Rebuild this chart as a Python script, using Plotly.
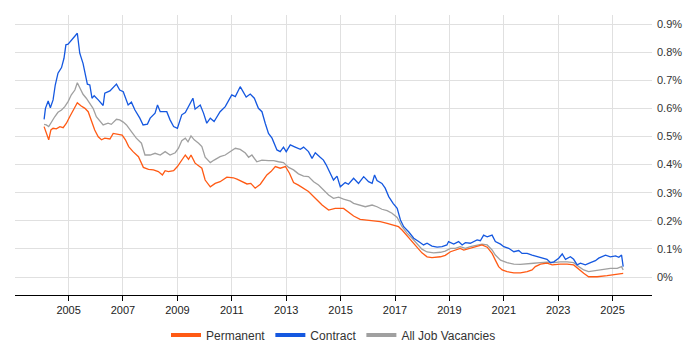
import plotly.graph_objects as go
from datetime import datetime, timedelta

# ---- data (decimal years, percent of vacancies) ----
contract_t = [2004.10, 2004.15, 2004.25, 2004.33, 2004.43, 2004.51, 2004.61, 2004.74, 2004.83, 2004.90,
              2004.98, 2005.10, 2005.23, 2005.32, 2005.41, 2005.53, 2005.69, 2005.78, 2005.86, 2005.94,
              2006.09, 2006.27, 2006.33, 2006.52, 2006.76, 2006.88, 2007.01, 2007.19, 2007.31, 2007.44,
              2007.62, 2007.74, 2007.90, 2008.00, 2008.18, 2008.27, 2008.37, 2008.61, 2008.73, 2008.86,
              2009.00, 2009.16, 2009.29, 2009.47, 2009.57, 2009.65, 2009.84, 2009.96, 2010.08, 2010.21,
              2010.35, 2010.57, 2010.76, 2011.00, 2011.13, 2011.31, 2011.43, 2011.53, 2011.68, 2011.83,
              2011.98, 2012.11, 2012.23, 2012.35, 2012.48, 2012.66, 2012.78, 2012.90, 2013.00, 2013.15,
              2013.33, 2013.52, 2013.64, 2013.82, 2013.95, 2014.07, 2014.25, 2014.37, 2014.47, 2014.62,
              2014.74, 2014.87, 2014.99, 2015.17, 2015.29, 2015.48, 2015.66, 2015.85, 2016.03, 2016.16,
              2016.25, 2016.34, 2016.52, 2016.64, 2016.77, 2016.93, 2017.08, 2017.20, 2017.32, 2017.50,
              2017.69, 2017.87, 2018.05, 2018.18, 2018.36, 2018.55, 2018.73, 2018.91, 2018.97, 2019.16,
              2019.34, 2019.47, 2019.59, 2019.77, 2019.89, 2020.02, 2020.14, 2020.26, 2020.39, 2020.57,
              2020.69, 2020.88, 2021.00, 2021.18, 2021.37, 2021.55, 2021.67, 2021.86, 2022.04, 2022.23,
              2022.41, 2022.59, 2022.72, 2022.84, 2023.02, 2023.15, 2023.27, 2023.45, 2023.57, 2023.70,
              2023.82, 2024.00, 2024.19, 2024.37, 2024.49, 2024.62, 2024.74, 2024.92, 2025.11, 2025.23,
              2025.33, 2025.39]
contract_v = [0.561, 0.600, 0.626, 0.602, 0.630, 0.683, 0.725, 0.745, 0.778, 0.826,
              0.828, 0.843, 0.855, 0.867, 0.796, 0.760, 0.686, 0.683, 0.636, 0.645,
              0.630, 0.610, 0.654, 0.662, 0.686, 0.665, 0.659, 0.612, 0.622, 0.594,
              0.565, 0.541, 0.544, 0.565, 0.583, 0.612, 0.588, 0.588, 0.559, 0.535,
              0.529, 0.577, 0.585, 0.618, 0.636, 0.597, 0.612, 0.583, 0.547, 0.565,
              0.553, 0.588, 0.606, 0.648, 0.642, 0.677, 0.658, 0.640, 0.651, 0.636,
              0.600, 0.588, 0.547, 0.511, 0.494, 0.452, 0.446, 0.462, 0.446, 0.470,
              0.462, 0.454, 0.462, 0.446, 0.422, 0.442, 0.426, 0.416, 0.399, 0.369,
              0.345, 0.359, 0.321, 0.336, 0.330, 0.351, 0.333, 0.357, 0.339, 0.333,
              0.363, 0.343, 0.333, 0.316, 0.286, 0.262, 0.244, 0.203, 0.179, 0.161,
              0.138, 0.126, 0.114, 0.120, 0.110, 0.106, 0.108, 0.114, 0.126, 0.117,
              0.126, 0.114, 0.122, 0.120, 0.126, 0.132, 0.129, 0.149, 0.143, 0.149,
              0.126, 0.117, 0.108, 0.102, 0.090, 0.094, 0.084, 0.084, 0.078, 0.072,
              0.067, 0.063, 0.051, 0.054, 0.067, 0.082, 0.063, 0.072, 0.063, 0.043,
              0.049, 0.043, 0.051, 0.058, 0.067, 0.072, 0.078, 0.072, 0.075, 0.070,
              0.078, 0.037]

permanent_t = [2004.10, 2004.18, 2004.27, 2004.35, 2004.43, 2004.55, 2004.68, 2004.80, 2004.92, 2005.04,
               2005.17, 2005.25, 2005.32, 2005.45, 2005.60, 2005.72, 2005.84, 2005.96, 2006.09, 2006.21,
               2006.33, 2006.52, 2006.64, 2006.82, 2006.97, 2007.09, 2007.21, 2007.37, 2007.57, 2007.75,
               2007.94, 2008.12, 2008.30, 2008.45, 2008.55, 2008.67, 2008.86, 2009.00, 2009.16, 2009.29,
               2009.41, 2009.50, 2009.65, 2009.90, 2010.02, 2010.21, 2010.39, 2010.57, 2010.82, 2011.06,
               2011.19, 2011.37, 2011.56, 2011.70, 2011.86, 2012.05, 2012.29, 2012.44, 2012.60, 2012.78,
               2012.97, 2013.12, 2013.27, 2013.45, 2013.64, 2013.82, 2014.07, 2014.32, 2014.56, 2014.80,
               2015.11, 2015.33, 2015.48, 2015.72, 2015.97, 2016.21, 2016.46, 2016.71, 2016.95, 2017.13,
               2017.26, 2017.44, 2017.63, 2017.81, 2017.99, 2018.18, 2018.36, 2018.67, 2018.85, 2019.04,
               2019.22, 2019.40, 2019.53, 2019.77, 2020.02, 2020.20, 2020.39, 2020.57, 2020.69, 2020.81,
               2020.94, 2021.12, 2021.37, 2021.61, 2021.86, 2022.04, 2022.16, 2022.35, 2022.59, 2022.78,
               2023.08, 2023.33, 2023.57, 2023.76, 2023.94, 2024.12, 2024.43, 2024.80, 2025.11, 2025.39]
permanent_v = [0.535, 0.511, 0.488, 0.523, 0.529, 0.527, 0.535, 0.531, 0.547, 0.570,
               0.591, 0.606, 0.620, 0.609, 0.600, 0.588, 0.559, 0.523, 0.499, 0.488,
               0.494, 0.491, 0.511, 0.509, 0.505, 0.488, 0.464, 0.446, 0.428, 0.390,
               0.383, 0.381, 0.375, 0.363, 0.378, 0.375, 0.378, 0.393, 0.416, 0.434,
               0.419, 0.434, 0.405, 0.387, 0.345, 0.321, 0.333, 0.339, 0.355, 0.353,
               0.348, 0.339, 0.331, 0.333, 0.316, 0.330, 0.363, 0.375, 0.393, 0.387,
               0.393, 0.369, 0.336, 0.327, 0.316, 0.304, 0.280, 0.256, 0.238, 0.244,
               0.244, 0.229, 0.217, 0.205, 0.203, 0.200, 0.197, 0.191, 0.185, 0.179,
               0.167, 0.146, 0.126, 0.106, 0.086, 0.072, 0.069, 0.072, 0.077, 0.090,
               0.096, 0.102, 0.096, 0.102, 0.108, 0.114, 0.106, 0.084, 0.060, 0.037,
               0.025, 0.019, 0.015, 0.015, 0.019, 0.025, 0.037, 0.046, 0.049, 0.043,
               0.046, 0.046, 0.043, 0.027, 0.013, 0.001, 0.001, 0.005, 0.010, 0.013]

all_t = [2004.10, 2004.18, 2004.27, 2004.37, 2004.49, 2004.61, 2004.74, 2004.86, 2004.98, 2005.10,
         2005.23, 2005.32, 2005.41, 2005.53, 2005.65, 2005.78, 2005.90, 2006.02, 2006.15, 2006.27,
         2006.45, 2006.57, 2006.76, 2006.88, 2007.01, 2007.13, 2007.31, 2007.49, 2007.68, 2007.81,
         2008.00, 2008.18, 2008.37, 2008.55, 2008.73, 2008.92, 2009.04, 2009.16, 2009.29, 2009.39,
         2009.50, 2009.62, 2009.78, 2009.90, 2010.02, 2010.21, 2010.35, 2010.57, 2010.76, 2010.94,
         2011.13, 2011.31, 2011.50, 2011.62, 2011.74, 2011.92, 2012.11, 2012.35, 2012.54, 2012.72,
         2012.90, 2013.09, 2013.27, 2013.45, 2013.64, 2013.82, 2014.01, 2014.19, 2014.37, 2014.56,
         2014.74, 2014.93, 2015.11, 2015.36, 2015.48, 2015.72, 2015.91, 2016.16, 2016.34, 2016.52,
         2016.71, 2016.89, 2017.08, 2017.26, 2017.44, 2017.63, 2017.81, 2017.99, 2018.18, 2018.42,
         2018.67, 2018.85, 2019.04, 2019.22, 2019.40, 2019.59, 2019.77, 2020.02, 2020.20, 2020.39,
         2020.57, 2020.69, 2020.88, 2021.12, 2021.37, 2021.61, 2021.86, 2022.10, 2022.35, 2022.59,
         2022.84, 2023.08, 2023.33, 2023.57, 2023.76, 2023.94, 2024.12, 2024.37, 2024.62, 2024.92,
         2025.17, 2025.33, 2025.39]
all_v = [0.543, 0.541, 0.535, 0.553, 0.570, 0.586, 0.594, 0.606, 0.624, 0.648,
         0.665, 0.691, 0.672, 0.650, 0.636, 0.618, 0.600, 0.570, 0.553, 0.541,
         0.547, 0.543, 0.561, 0.559, 0.551, 0.541, 0.517, 0.494, 0.476, 0.434,
         0.434, 0.440, 0.434, 0.446, 0.434, 0.442, 0.458, 0.485, 0.494, 0.481,
         0.502, 0.488, 0.476, 0.464, 0.426, 0.407, 0.416, 0.428, 0.434, 0.446,
         0.458, 0.454, 0.441, 0.426, 0.434, 0.410, 0.416, 0.414, 0.414, 0.410,
         0.407, 0.390, 0.381, 0.367, 0.359, 0.357, 0.339, 0.327, 0.310, 0.292,
         0.280, 0.284, 0.277, 0.270, 0.262, 0.256, 0.250, 0.256, 0.250, 0.241,
         0.236, 0.227, 0.212, 0.179, 0.156, 0.138, 0.117, 0.099, 0.089, 0.086,
         0.088, 0.092, 0.102, 0.102, 0.108, 0.102, 0.108, 0.114, 0.117, 0.114,
         0.096, 0.078, 0.060, 0.051, 0.046, 0.045, 0.046, 0.049, 0.051, 0.053,
         0.051, 0.054, 0.054, 0.051, 0.037, 0.025, 0.019, 0.022, 0.027, 0.031,
         0.031, 0.037, 0.025]

y_ticks = [0, 0.1, 0.2, 0.3, 0.4, 0.5, 0.6, 0.7, 0.8, 0.9]
y_tick_labels = ["0%", "0.1%", "0.2%", "0.3%", "0.4%", "0.5%", "0.6%", "0.7%", "0.8%", "0.9%"]
x_tick_years = [2005, 2007, 2009, 2011, 2013, 2015, 2017, 2019, 2021, 2023, 2025]

series_names = ["Permanent", "Contract", "All Job Vacancies"]
colors = ["#FF5A14", "#1558E0", "#A0A0A0"]


def to_date(y):
    yi = int(y)
    start = datetime(yi, 1, 1)
    end = datetime(yi + 1, 1, 1)
    return start + (end - start) * (y - yi)


series = [(permanent_t, permanent_v), (contract_t, contract_v), (all_t, all_v)]
fig = go.Figure()
# draw order: all job vacancies at back, then permanent, contract on top
for idx in [2, 0, 1]:
    t, v = series[idx]
    fig.add_trace(go.Scatter(x=[to_date(a) for a in t], y=v, mode="lines",
                             line=dict(color=colors[idx], width=1.3),
                             name=series_names[idx], showlegend=False,
                             hoverinfo="skip"))
# legend entries
for idx in range(3):
    fig.add_trace(go.Scatter(x=[None], y=[None], mode="lines",
                             line=dict(color=colors[idx], width=4),
                             name=series_names[idx], showlegend=True))

fig.update_layout(
    width=700, height=350,
    margin=dict(l=15, r=48, t=15, b=55, autoexpand=False),
    paper_bgcolor="white", plot_bgcolor="white",
    font=dict(family="Liberation Sans, Arial, sans-serif", size=11, color="#333333"),
    showlegend=True,
    legend=dict(orientation="h", x=0.5, xanchor="center",
                yref="container", y=0.043, yanchor="middle",
                font=dict(size=12, color="#333333"), traceorder="normal",
                itemwidth=30),
    xaxis=dict(
        type="date",
        range=[to_date(2003.03), to_date(2026.45)],
        tickvals=[datetime(y, 1, 1) for y in x_tick_years],
        ticktext=[str(y) for y in x_tick_years],
        showgrid=True, gridcolor="#E0E0E0", gridwidth=1,
        showline=True, linecolor="#000000", linewidth=1,
        ticks="outside", ticklen=5, tickcolor="#000000",
        tickfont=dict(size=11, color="#222222"),
        zeroline=False, fixedrange=True,
    ),
    yaxis=dict(
        side="right",
        range=[-0.064, 0.932],
        tickvals=y_ticks, ticktext=y_tick_labels,
        showgrid=True, gridcolor="#E0E0E0", gridwidth=1,
        showline=False, zeroline=False, ticks="",
        ticklabelstandoff=4,
        tickfont=dict(size=11, color="#333333"),
        fixedrange=True,
    ),
)

fig.write_html("out.html")
